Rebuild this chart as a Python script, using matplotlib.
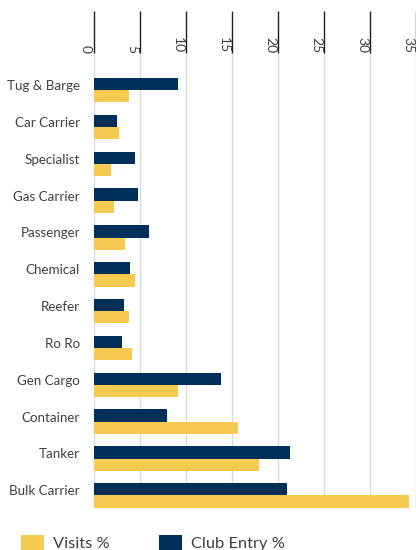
import numpy as np
import matplotlib
matplotlib.use("Agg")
import matplotlib.pyplot as plt
import matplotlib.transforms as mtransforms
from matplotlib.patches import Patch

# --- Data ---
CATEGORIES = ["Tug & Barge", "Car Carrier", "Specialist", "Gas Carrier", "Passenger",
              "Chemical", "Reefer", "Ro Ro", "Gen Cargo", "Container", "Tanker",
              "Bulk Carrier"]
CLUB_ENTRY = [9.1, 2.5, 4.5, 4.75, 5.95, 3.9, 3.3, 3.0, 13.8, 7.9, 21.3, 21.0]
VISITS = [3.8, 2.7, 1.9, 2.15, 3.35, 4.5, 3.8, 4.1, 9.1, 15.7, 17.9, 34.2]
XTICKS = [0, 5, 10, 15, 20, 25, 30, 35]

NAVY = "#00305A"
YELLOW = "#F6C951"
TEXT = "#404040"
BAR_H = 0.334

plt.rcParams["font.family"] = ["Lato", "DejaVu Sans"]

fig = plt.figure(figsize=(4.16, 5.5), dpi=100)
ax = fig.add_axes([94 / 416, 1 - 508 / 550, 1 - 94 / 416, (508 - 53) / 550])

y = np.arange(len(CATEGORIES))
ax.barh(y - BAR_H / 2, CLUB_ENTRY, height=BAR_H, color=NAVY, zorder=3)
ax.barh(y + BAR_H / 2, VISITS, height=BAR_H, color=YELLOW, zorder=3)

ax.set_xlim(0, 35)
ax.set_ylim(len(CATEGORIES) - 1 + BAR_H + 0.01, -1.01)

# category labels sit a little above the middle of each bar pair
ax.set_yticks(y - 0.14)
ax.set_yticklabels(CATEGORIES, fontsize=9.6, color=TEXT)
ax.tick_params(axis="y", length=0, pad=10)

ax.xaxis.tick_top()
ax.set_xticks(XTICKS)
ax.set_xticklabels([])
ax.tick_params(axis="x", length=30, width=1, color="#222222", direction="out")
ax.grid(axis="x", color="#DADADA", linewidth=1, zorder=0)

for s in ax.spines.values():
    s.set_visible(False)

# rotated tick labels sitting just left of each tick mark
trans = mtransforms.blended_transform_factory(ax.transData, ax.transAxes)
trans = trans + mtransforms.ScaledTranslation(-2 / 100, 0, fig.dpi_scale_trans)
for v in XTICKS:
    ax.text(v, 1.0, str(v), transform=trans, rotation=-90, ha="right", va="bottom",
            fontsize=10, color=TEXT, clip_on=False)

handles = [Patch(facecolor=YELLOW, label="Visits %"),
           Patch(facecolor=NAVY, label="Club Entry %")]
fig.legend(handles=handles, loc="center left", bbox_to_anchor=(21 / 416, 1 - 543 / 550),
           ncol=2, frameon=False, fontsize=11.8, handlelength=1.4, handleheight=1.0,
           handletextpad=0.55, columnspacing=3.0, borderpad=0, borderaxespad=0,
           labelcolor=TEXT)

fig.savefig("out.png", dpi=100)
